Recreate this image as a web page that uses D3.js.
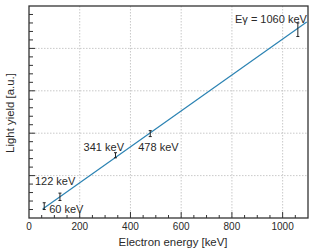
<!DOCTYPE html>
<html>
<head>
<meta charset="UTF-8">
<script src="https://cdn.jsdelivr.net/npm/d3@7"></script>
<style>
  body { margin: 0; background: #fff; }
  text { font-family: "Liberation Sans", Arial, sans-serif; fill: #2a2a2a; }
</style>
</head>
<body>
<svg id="chart" width="315" height="252"></svg>
<script>
// measured points
const energies = [60, 122, 341, 478, 1060];
const yields = [0.28, 0.50, 1.48, 1.99, 4.44];
const yieldErr = [0.08, 0.087, 0.06, 0.07, 0.16];
const pointLabels = ["60 keV", "122 keV", "341 keV", "478 keV", "E\u03b3 = 1060 keV"];
// linear fit drawn across the plot
const fitLine = [[54, 0.21], [1095, 4.62]];
const xTicks = [0, 200, 400, 600, 800, 1000];

// label placement relative to each point
const labelOffsets = [
  { dx: 5, dy: 7, anchor: "start" },
  { dx: -25, dy: -12, anchor: "start" },
  { dx: 8.5, dy: -4.5, anchor: "end" },
  { dx: -12, dy: 17.5, anchor: "start" },
  { dx: 9, dy: -7, anchor: "end" }
];

const plotL = 29, plotR = 308, plotT = 6, plotB = 218;

const svg = d3.select("#chart");

const x = d3.scaleLinear().domain([0, 1100]).range([plotL, plotR]);
const y = d3.scaleLinear().domain([0, 5]).range([plotB, plotT]);

// grid
svg.append("g")
  .selectAll("line")
  .data(xTicks.filter(d => d > 0))
  .join("line")
  .attr("x1", d => x(d)).attr("x2", d => x(d))
  .attr("y1", plotT).attr("y2", plotB)
  .attr("stroke", "#bbb")
  .attr("stroke-width", 0.8)
  .attr("stroke-dasharray", "1.5,1.5");

svg.append("g")
  .selectAll("line")
  .data(d3.range(1, 5))
  .join("line")
  .attr("x1", plotL).attr("x2", plotR)
  .attr("y1", d => y(d)).attr("y2", d => y(d))
  .attr("stroke", "#bbb")
  .attr("stroke-width", 0.8)
  .attr("stroke-dasharray", "1.5,1.5");

// ticks (inside)
svg.append("g")
  .selectAll("line")
  .data(d3.range(50, 1100, 50))
  .join("line")
  .attr("x1", d => x(d)).attr("x2", d => x(d))
  .attr("y1", plotB)
  .attr("y2", d => d % 200 === 0 ? plotB - 6 : plotB - 3)
  .attr("stroke", "#333");

svg.append("g")
  .selectAll("line")
  .data(d3.range(1, 25))
  .join("line")
  .attr("x1", plotL)
  .attr("x2", d => d % 5 === 0 ? plotL + 6 : plotL + 4)
  .attr("y1", d => y(d / 5)).attr("y2", d => y(d / 5))
  .attr("stroke", "#333");

// tick labels
svg.append("g")
  .selectAll("text")
  .data(xTicks)
  .join("text")
  .attr("x", d => x(d))
  .attr("y", 230)
  .attr("text-anchor", "middle")
  .attr("font-size", "10px")
  .text(d => d);

// fit line
svg.append("path")
  .datum(fitLine)
  .attr("d", d3.line().x(d => x(d[0])).y(d => y(d[1])))
  .attr("fill", "none")
  .attr("stroke", "#2b83b3")
  .attr("stroke-width", 1.2);

// error bars
const pts = energies.map((e, i) => ({ e, v: yields[i], err: yieldErr[i], label: pointLabels[i], off: labelOffsets[i] }));

const eb = svg.append("g").attr("stroke", "#222").attr("stroke-width", 1);
pts.forEach(p => {
  eb.append("line")
    .attr("x1", x(p.e)).attr("x2", x(p.e))
    .attr("y1", y(p.v - p.err)).attr("y2", y(p.v + p.err));
  [p.v - p.err, p.v + p.err].forEach(v => {
    eb.append("line")
      .attr("x1", x(p.e) - 1.5).attr("x2", x(p.e) + 1.5)
      .attr("y1", y(v)).attr("y2", y(v));
  });
});

// point labels
svg.append("g")
  .selectAll("text")
  .data(pts)
  .join("text")
  .attr("x", d => x(d.e) + d.off.dx)
  .attr("y", d => y(d.v) + d.off.dy)
  .attr("text-anchor", d => d.off.anchor)
  .attr("font-size", "11px")
  .text(d => d.label);

// frame
svg.append("rect")
  .attr("x", plotL).attr("y", plotT)
  .attr("width", plotR - plotL).attr("height", plotB - plotT)
  .attr("fill", "none")
  .attr("stroke", "#333")
  .attr("stroke-width", 1.3);

// axis titles
svg.append("text")
  .attr("x", 173)
  .attr("y", 246)
  .attr("text-anchor", "middle")
  .attr("font-size", "11.4px")
  .text("Electron energy [keV]");

svg.append("text")
  .attr("transform", "translate(14,113) rotate(-90)")
  .attr("text-anchor", "middle")
  .attr("font-size", "11.4px")
  .text("Light yield [a.u.]");
</script>
</body>
</html>
